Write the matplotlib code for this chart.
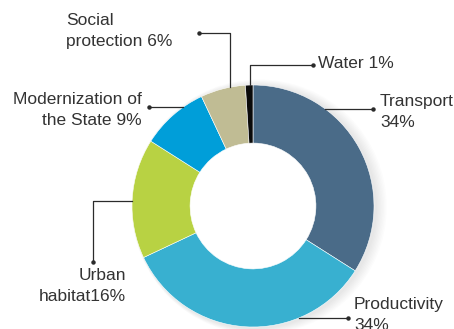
import numpy as np
import matplotlib
matplotlib.use("Agg")
import matplotlib.pyplot as plt
from matplotlib.patches import Circle

labels = ["Transport\n34%", "Productivity\n34%", "Urban\nhabitat16%",
          "Modernization of\nthe State 9%", "Social\nprotection 6%", "Water 1%"]
shares = [34, 34, 16, 9, 6, 1]
colors = ["#4a6b88", "#38b0d0", "#b8d243", "#009ed9", "#c0bc94", "#0a0a0a"]

W, H = 454, 329
cx, cy, R = 253, 206, 121
ring = 0.48

fig = plt.figure(figsize=(W / 100, H / 100), dpi=100)
ax = fig.add_axes([0, 0, 1, 1])

# soft shadow on the right side
for k in range(8):
    ax.add_patch(Circle((cx + 2 + k * 0.6, cy + 1), R + 1 + k * 0.8,
                        color="#000000", alpha=0.012, lw=0, zorder=0))
ax.add_patch(Circle((cx, cy), R * (1 - ring) + 1, color="white", lw=0, zorder=0.5))

ax.pie(shares, colors=colors, center=(cx, cy), radius=R,
       startangle=-90, counterclock=True,
       wedgeprops=dict(width=R * ring, edgecolor="white", linewidth=0.4),
       frame=True)

ax.set_xlim(0, W)
ax.set_ylim(H, 0)
ax.set_aspect("equal")
ax.axis("off")


def on_ring_x(x, top=True):
    dy = np.sqrt(R ** 2 - (x - cx) ** 2)
    return (x, cy - dy if top else cy + dy)


def on_ring_y(y, right=True):
    dx = np.sqrt(R ** 2 - (y - cy) ** 2)
    return (cx + dx if right else cx - dx, y)


# leader paths: start on ring, elbow(s), end with a dot
leaders = [
    [on_ring_y(109, True), (373, 109)],
    [on_ring_y(318, True), (348, 318)],
    [on_ring_y(201, False), (93, 201), (93, 262)],
    [on_ring_y(107, False), (149, 107)],
    [on_ring_x(230), (230, 33), (199, 33)],
    [on_ring_x(250), (250, 65), (313, 65)],
]
text_pos = [
    (380, 112, "left"),
    (354, 315, "left"),
    (126, 286, "right"),
    (142, 110, "right"),
    (66, 31, "left"),
    (318, 63, "left"),
]

for lab, path, (tx, ty, ha) in zip(labels, leaders, text_pos):
    xs, ys = zip(*path)
    ax.plot(xs, ys, color="#2b2b2b", lw=0.9, zorder=5)
    ax.plot(xs[-1], ys[-1], "o", color="#2b2b2b", ms=2.2, zorder=5)
    ax.text(tx, ty, lab, ha=ha, va="center", fontsize=12.5,
            family="Liberation Sans", color="#333333", linespacing=1.55,
            multialignment=ha)

fig.savefig("out.png", dpi=100)
